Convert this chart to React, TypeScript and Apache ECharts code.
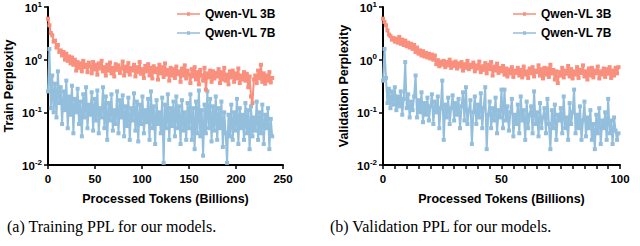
import React, { useEffect, useRef } from "react";
import * as echarts from "echarts";

const legendNames = ["Qwen-VL 3B", "Qwen-VL 7B"];
const trainStep = 1.5;
const valStep = 0.625;
const trainTicks = [0, 50, 100, 150, 200, 250];
const valTickLabels = [0, 50, 100];

const train3B = [
  6.0, 4.5, 3.2, 2.9, 2.2, 2.3, 1.7, 1.9, 1.4, 1.5,
  1.2, 1.4, 1.0, 1.3, 0.95, 1.15, 0.85, 1.1, 0.8, 1.0,
  0.62, 0.9, 0.7, 0.85, 0.6, 0.95, 0.72, 0.8, 0.58, 0.88,
  0.75, 0.55, 0.9, 0.65, 0.8, 0.52, 0.85, 0.68, 0.95, 0.6,
  0.72, 0.5, 0.8, 0.62, 0.88, 0.55, 0.7, 0.48, 0.82, 0.64,
  0.78, 0.56, 0.68, 0.92, 0.5, 0.74, 0.6, 0.86, 0.52, 0.7,
  0.62, 0.8, 0.48, 0.72, 0.58, 0.9, 0.54, 0.66, 0.45, 0.76,
  0.6, 0.82, 0.5, 0.7, 0.44, 0.75, 0.58, 0.68, 0.42, 0.8,
  0.55, 0.72, 0.47, 0.85, 0.52, 0.64, 0.4, 0.7, 0.5, 0.66,
  0.45, 0.74, 0.53, 0.6, 0.38, 0.68, 0.5, 0.78, 0.44, 0.62,
  0.52, 0.36, 0.66, 0.48, 0.72, 0.42, 0.58, 0.34, 0.64, 0.5,
  0.4, 0.7, 0.27, 0.55, 0.46, 0.62, 0.38, 0.6, 0.44, 0.56,
  0.48, 0.66, 0.36, 0.58, 0.42, 0.7, 0.4, 0.52, 0.34, 0.6,
  0.46, 0.62, 0.38, 0.55, 0.44, 0.68, 0.36, 0.5, 0.42, 0.58,
  0.4, 0.54, 0.3, 0.48, 0.2, 0.15, 0.42, 0.5, 0.36, 0.62,
  0.44, 0.8, 0.38, 0.55, 0.35, 0.5, 0.4, 0.58, 0.37, 0.45,
];

const train7B = [
  0.25, 1.6, 0.12, 0.5, 0.1, 0.35, 0.08, 0.6, 0.15, 0.3,
  0.06, 0.25, 0.11, 0.4, 0.05, 0.2, 0.09, 0.32, 0.04, 0.18,
  0.1, 0.28, 0.06, 0.16, 0.035, 0.22, 0.08, 0.3, 0.05, 0.14,
  0.09, 0.24, 0.045, 0.18, 0.07, 0.26, 0.04, 0.12, 0.08, 0.3,
  0.05, 0.2, 0.03, 0.15, 0.07, 0.22, 0.045, 0.11, 0.06, 0.25,
  0.04, 0.17, 0.08, 0.21, 0.035, 0.13, 0.055, 0.19, 0.03, 0.12,
  0.07, 0.23, 0.045, 0.16, 0.028, 0.14, 0.06, 0.2, 0.04, 0.11,
  0.065, 0.18, 0.03, 0.25, 0.05, 0.13, 0.025, 0.17, 0.06, 0.1,
  0.04, 0.19, 0.011, 0.14, 0.05, 0.22, 0.03, 0.12, 0.055, 0.16,
  0.035, 0.2, 0.05, 0.13, 0.025, 0.17, 0.045, 0.1, 0.03, 0.15,
  0.05, 0.22, 0.03, 0.12, 0.02, 0.16, 0.04, 0.26, 0.035, 0.11,
  0.015, 0.14, 0.04, 0.25, 0.05, 0.18, 0.028, 0.13, 0.045, 0.2,
  0.03, 0.12, 0.05, 0.16, 0.022, 0.1, 0.04, 0.011, 0.09, 0.035,
  0.14, 0.03, 0.1, 0.045, 0.18, 0.025, 0.12, 0.05, 0.09, 0.03,
  0.15, 0.04, 0.11, 0.02, 0.13, 0.035, 0.08, 0.045, 0.16, 0.03,
  0.1, 0.04, 0.14, 0.025, 0.09, 0.05, 0.12, 0.02, 0.075, 0.035,
];

const val3B = [
  6.0, 5.2, 4.5, 3.6, 3.0, 2.8, 2.4, 2.6, 2.2, 2.5,
  2.1, 2.7, 2.0, 2.4, 1.9, 2.3, 1.8, 2.1, 1.7, 2.0,
  1.6, 1.9, 1.4, 1.7, 1.3, 1.5, 1.2, 1.45, 1.15, 1.35,
  1.1, 1.3, 1.05, 1.25, 1.0, 1.2, 0.82, 0.98, 0.75, 0.92,
  0.8, 0.95, 0.72, 0.9, 0.78, 1.0, 0.7, 0.88, 0.76, 0.92,
  0.68, 0.85, 0.74, 0.9, 0.62, 0.82, 0.7, 0.95, 0.66, 0.8,
  0.72, 0.88, 0.6, 0.78, 0.68, 0.92, 0.58, 0.75, 0.64, 0.86,
  0.55, 0.8, 0.66, 0.9, 0.5, 0.74, 0.62, 0.84, 0.56, 0.7,
  0.6, 0.76, 0.52, 0.68, 0.48, 0.65, 0.55, 0.72, 0.47, 0.62,
  0.56, 0.7, 0.5, 0.64, 0.46, 0.74, 0.52, 0.6, 0.45, 0.68,
  0.55, 0.72, 0.48, 0.62, 0.58, 0.78, 0.5, 0.66, 0.44, 0.7,
  0.52, 0.68, 0.47, 0.8, 0.55, 0.64, 0.42, 0.6, 0.36, 0.58,
  0.5, 0.7, 0.46, 0.62, 0.54, 0.76, 0.48, 0.66, 0.44, 0.6,
  0.52, 0.72, 0.45, 0.64, 0.56, 0.78, 0.48, 0.6, 0.42, 0.68,
  0.5, 0.7, 0.46, 0.62, 0.55, 0.74, 0.44, 0.6, 0.52, 0.68,
  0.47, 0.66, 0.54, 0.72, 0.45, 0.62, 0.5, 0.7, 0.55, 0.72,
];

const val7B = [
  0.4, 1.6, 0.45, 0.15, 0.28, 0.12, 0.25, 0.14, 0.3, 0.11,
  0.2, 0.13, 0.25, 0.09, 0.18, 0.9, 0.12, 0.22, 0.08, 0.16,
  0.11, 0.2, 0.5, 0.08, 0.17, 0.1, 0.24, 0.065, 0.15, 0.09,
  0.19, 0.07, 0.13, 0.22, 0.06, 0.16, 0.1, 0.2, 0.05, 0.12,
  0.4, 0.03, 0.14, 0.08, 0.19, 0.06, 0.12, 0.21, 0.07, 0.15,
  0.09, 0.18, 0.05, 0.13, 0.24, 0.07, 0.3, 0.06, 0.11, 0.17,
  0.025, 0.1, 0.2, 0.06, 0.14, 0.08, 0.23, 0.05, 0.12, 0.3,
  0.02, 0.09, 0.16, 0.05, 0.12, 0.07, 0.19, 0.04, 0.11, 0.08,
  0.27, 0.05, 0.27, 0.07, 0.13, 0.045, 0.1, 0.18, 0.035, 0.09,
  0.06, 0.14, 0.04, 0.2, 0.07, 0.11, 0.03, 0.16, 0.05, 0.09,
  0.13, 0.04, 0.25, 0.06, 0.1, 0.035, 0.15, 0.05, 0.08, 0.12,
  0.04, 0.18, 0.06, 0.02, 0.11, 0.05, 0.14, 0.03, 0.09, 0.07,
  0.12, 0.04, 0.2, 0.05, 0.08, 0.03, 0.15, 0.06, 0.1, 0.27,
  0.04, 0.09, 0.05, 0.13, 0.03, 0.07, 0.16, 0.035, 0.08, 0.05,
  0.11, 0.03, 0.06, 0.02, 0.09, 0.04, 0.12, 0.025, 0.07, 0.05,
  0.1, 0.03, 0.18, 0.04, 0.07, 0.025, 0.08, 0.045, 0.03, 0.04,
];

const ORANGE = "#F98F7D";
const BLUE = "#93BEDC";
const SANS = "'Liberation Sans', Arial, Helvetica, sans-serif";
const SERIF = "'Liberation Serif', 'Times New Roman', serif";
const LEGEND_ICON = "path://M0,3.2 L23,3.2 L23,4.8 L0,4.8 Z M10,2.2 L13,2.2 L13,5.8 L10,5.8 Z M0,0 L0.01,0 L0.01,0.01 Z M0,8 L0.01,8 L0.01,7.99 Z";

function pairs(vals: number[], step: number) {
  return vals.map((v, i) => [i * step, v]);
}

function yAxisFor(gridIndex: number, name: string) {
  return {
    type: "log",
    logBase: 10,
    gridIndex,
    min: 0.01,
    max: 10,
    name,
    nameLocation: "middle",
    nameGap: 33,
    nameTextStyle: { fontFamily: SANS, fontWeight: "bold", fontSize: 12.5, color: "#000" },
    axisLine: { show: true, lineStyle: { color: "#000", width: 2 } },
    axisTick: { show: true, length: 4, lineStyle: { color: "#000", width: 1.5 } },
    minorTick: { show: false },
    splitLine: { show: false },
    axisLabel: {
      margin: 6,
      formatter: (v: number) => {
        const e = Math.round(Math.log10(v));
        return "{b|10}{s|" + e + "}";
      },
      rich: {
        b: { fontFamily: SANS, fontWeight: "bold", fontSize: 11.5, color: "#000", verticalAlign: "bottom", lineHeight: 14 },
        s: { fontFamily: SANS, fontWeight: "bold", fontSize: 8, color: "#000", verticalAlign: "top", lineHeight: 8 },
      },
    },
  };
}

function lineSeries(name: string, data: number[][], color: string, idx: number) {
  return {
    name,
    type: "line",
    xAxisIndex: idx,
    yAxisIndex: idx,
    data,
    symbol: "rect",
    symbolSize: 4,
    showSymbol: true,
    lineStyle: { color, width: 2 },
    itemStyle: { color },
    emphasis: { disabled: true },
    z: name === legendNames[0] ? 3 : 2,
  };
}

export default function App() {
  const ref = useRef<HTMLDivElement>(null);
  useEffect(() => {
    if (!ref.current) return;
    const chart = echarts.init(ref.current, undefined, { renderer: "svg" });
    const xName = "Processed Tokens (Billions)";
    const xCommon = {
      type: "value",
      name: xName,
      nameLocation: "middle",
      nameTextStyle: { fontFamily: SANS, fontWeight: "bold", fontSize: 12.5, color: "#000" },
      axisLine: { show: true, onZero: false, lineStyle: { color: "#000", width: 2 } },
      axisTick: { show: true, length: 4, lineStyle: { color: "#000", width: 1.5 } },
      splitLine: { show: false },
    };
    const legendCommon = {
      data: legendNames.map((n) => ({ name: n, icon: LEGEND_ICON })),
      orient: "vertical",
      top: 8,
      padding: 0,
      itemWidth: 23,
      itemHeight: 8,
      itemGap: 7,
      textStyle: { fontFamily: SANS, fontWeight: "bold", fontSize: 12, color: "#000" },
    };
    chart.setOption({
      animation: false,
      backgroundColor: "#fff",
      grid: [
        { left: 48, top: 7, width: 235, height: 158 },
        { left: 383, top: 7, width: 237, height: 158 },
      ],
      legend: [
        { ...legendCommon, left: 177 },
        { ...legendCommon, left: 513 },
      ],
      xAxis: [
        {
          ...xCommon,
          gridIndex: 0,
          min: 0,
          max: trainTicks[trainTicks.length - 1],
          interval: 50,
          nameGap: 27,
          axisLabel: { margin: 8, fontFamily: SANS, fontWeight: "bold", fontSize: 11.5, color: "#000" },
        },
        {
          ...xCommon,
          gridIndex: 1,
          min: 0,
          max: valTickLabels[valTickLabels.length - 1],
          interval: 5,
          nameGap: 27,
          axisLabel: {
            margin: 8,
            fontFamily: SANS,
            fontWeight: "bold",
            fontSize: 11.5,
            color: "#000",
            formatter: (v: number) => (valTickLabels.includes(v) ? String(v) : ""),
          },
        },
      ],
      yAxis: [yAxisFor(0, "Train Perplexity"), yAxisFor(1, "Validation Perplexity")],
      series: [
        lineSeries(legendNames[1], pairs(train7B, trainStep), BLUE, 0),
        lineSeries(legendNames[0], pairs(train3B, trainStep), ORANGE, 0),
        lineSeries(legendNames[1], pairs(val7B, valStep), BLUE, 1),
        lineSeries(legendNames[0], pairs(val3B, valStep), ORANGE, 1),
      ],
      graphic: [
        {
          type: "text",
          left: 7,
          top: 218,
          style: { text: "(a) Training PPL for our models.", fontFamily: SERIF, fontSize: 16, fill: "#000" },
        },
        {
          type: "text",
          left: 330,
          top: 218,
          style: { text: "(b) Validation PPL for our models.", fontFamily: SERIF, fontSize: 16, fill: "#000" },
        },
      ],
    });
    return () => chart.dispose();
  }, []);
  return <div ref={ref} style={{ position: "fixed", left: 0, top: 0, width: 640, height: 246 }} />;
}
